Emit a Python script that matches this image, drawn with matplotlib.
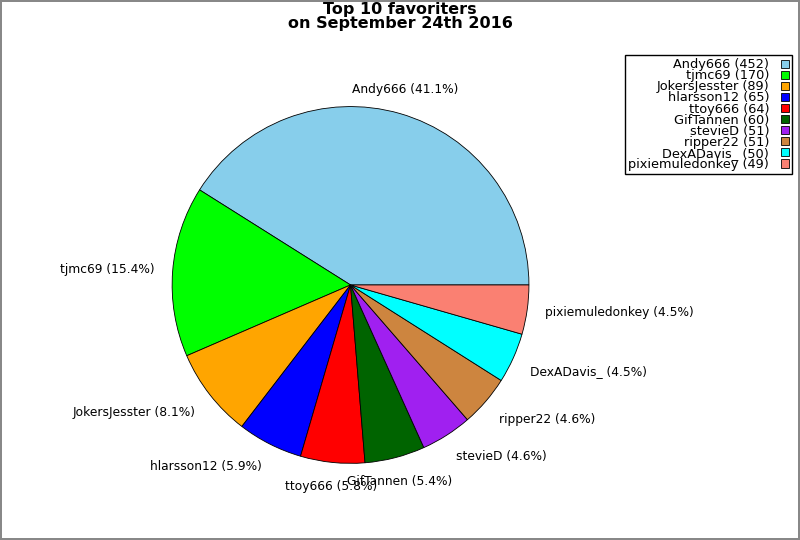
import matplotlib
matplotlib.use("Agg")
import matplotlib.pyplot as plt

users = ["Andy666", "tjmc69", "JokersJesster", "hlarsson12", "ttoy666",
         "GifTannen", "stevieD", "ripper22", "DexADavis_", "pixiemuledonkey"]
favs = [452, 170, 89, 65, 64, 60, 51, 51, 50, 49]
colors = ["#87ceeb", "#00ff00", "#ffa500", "#0000ff", "#ff0000",
          "#006400", "#a020f0", "#cd853f", "#00ffff", "#fa8072"]

total = sum(favs)
pie_labels = ["%s (%.1f%%)" % (u, 100.0 * f / total) for u, f in zip(users, favs)]
legend_labels = ["%s (%d)" % (u, f) for u, f in zip(users, favs)]

fig = plt.figure(figsize=(8, 5.4), dpi=100)
fig.patch.set_edgecolor("#888888")
fig.patch.set_linewidth(1.5)

ax = fig.add_axes([0.1594, 0.0593, 0.5575, 0.826])
wedges, texts = ax.pie(favs, labels=pie_labels, colors=colors, labeldistance=1.1,
                       wedgeprops=dict(edgecolor="black", linewidth=0.6),
                       textprops=dict(fontsize=8.8))
ax.set_xlim(-1.25, 1.25)
ax.set_ylim(-1.25, 1.25)
ax.set_aspect("equal")

# octave-ish label alignment
for t in texts:
    x, y = t.get_position()
    if abs(x) < 0.385:
        t.set_ha("center")
    elif x > 0:
        t.set_ha("left")
    else:
        t.set_ha("right")
    if y > 0.33:
        t.set_va("bottom")
    elif y < -0.33:
        t.set_va("top")
    else:
        t.set_va("center")

fig.suptitle("Top 10 favoriters\non September 24th 2016", fontsize=11.5,
             fontweight="bold", y=0.997, va="top", linespacing=0.92)

fig.legend(wedges, legend_labels, loc="upper right", bbox_to_anchor=(0.99, 0.898),
           borderaxespad=0, markerfirst=False, fontsize=9.3, labelspacing=-0.15,
           handlelength=0.62, handleheight=0.62, handletextpad=0.9, borderpad=0.25,
           fancybox=False, edgecolor="black", framealpha=1)

fig.savefig("out.png", dpi=100, facecolor="white", edgecolor=fig.patch.get_edgecolor())
